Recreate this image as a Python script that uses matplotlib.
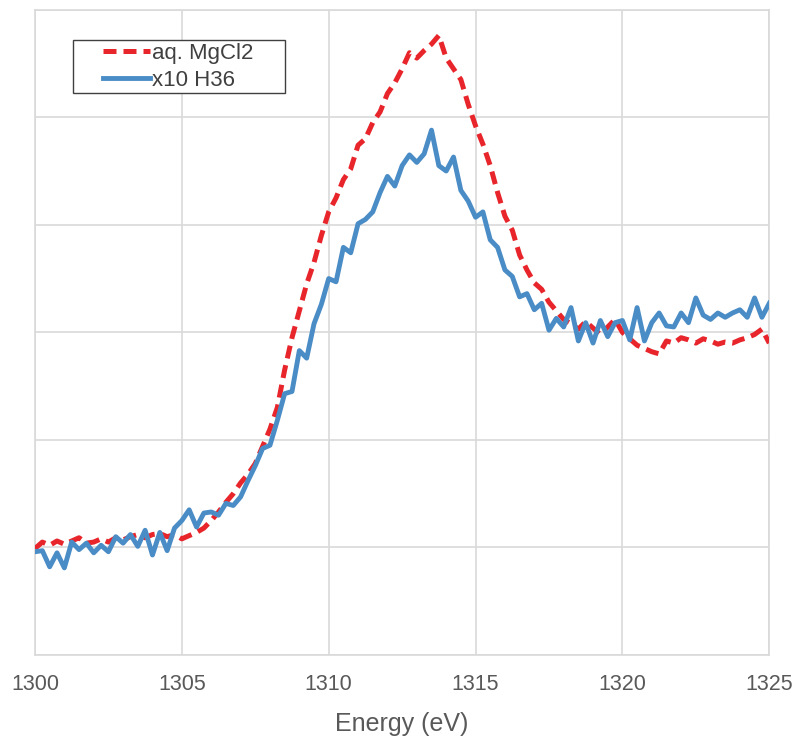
import numpy as np
import matplotlib
matplotlib.use("Agg")
import matplotlib.pyplot as plt
from matplotlib.patches import Rectangle

plt.rcParams['font.family'] = ['Liberation Sans', 'DejaVu Sans']

# Energy grid (eV)
energy = np.arange(1300.0, 1325.01, 0.25)

mgcl2 = [0.99, 1.05, 1.02, 1.06, 1.03, 1.06, 1.09, 1.04, 1.05, 1.08,
         1.05, 1.09, 1.07, 1.10, 1.12, 1.09, 1.12, 1.13, 1.10, 1.12,
         1.08, 1.11, 1.14, 1.18, 1.25, 1.33, 1.42, 1.50, 1.60, 1.68,
         1.78, 1.94, 2.10, 2.30, 2.65, 2.95, 3.20, 3.45, 3.65, 3.90,
         4.12, 4.25, 4.42, 4.52, 4.74, 4.80, 4.95, 5.05, 5.22, 5.32,
         5.45, 5.60, 5.55, 5.62, 5.68, 5.76, 5.55, 5.45, 5.35, 5.12,
         4.92, 4.75, 4.55, 4.30, 4.08, 3.95, 3.72, 3.58, 3.46, 3.40,
         3.28, 3.20, 3.12, 3.08, 3.03, 3.10, 3.04, 2.98, 3.05, 3.12,
         3.00, 2.94, 2.88, 2.85, 2.82, 2.80, 2.92, 2.90, 2.95, 2.93,
         2.90, 2.94, 2.92, 2.89, 2.91, 2.90, 2.93, 2.95, 2.98, 3.03,
         2.90]

h36_x10 = [0.96, 0.97, 0.82, 0.95, 0.81, 1.05, 0.98, 1.04, 0.95, 1.02,
           0.96, 1.10, 1.04, 1.12, 1.01, 1.16, 0.93, 1.14, 0.97, 1.18,
           1.25, 1.35, 1.19, 1.32, 1.33, 1.30, 1.41, 1.39, 1.47, 1.62,
           1.76, 1.92, 1.95, 2.18, 2.43, 2.45, 2.83, 2.76, 3.08, 3.26,
           3.50, 3.47, 3.79, 3.74, 4.01, 4.05, 4.12, 4.30, 4.45, 4.36,
           4.55, 4.65, 4.58, 4.66, 4.88, 4.55, 4.50, 4.63, 4.32, 4.22,
           4.07, 4.12, 3.86, 3.79, 3.58, 3.52, 3.33, 3.36, 3.21, 3.27,
           3.02, 3.13, 3.05, 3.23, 2.92, 3.09, 2.90, 3.11, 2.96, 3.09,
           3.11, 2.93, 3.23, 2.92, 3.09, 3.18, 3.06, 3.05, 3.18, 3.09,
           3.32, 3.16, 3.12, 3.18, 3.14, 3.18, 3.21, 3.14, 3.32, 3.14,
           3.27]

x_ticks = [1300, 1305, 1310, 1315, 1320, 1325]
y_grid = [0, 1, 2, 3, 4, 5, 6]

fig = plt.figure(figsize=(7.97, 7.45), dpi=100)
ax = fig.add_axes([0.0439, 0.1208, 0.9213, 0.8662])

ax.plot(energy, mgcl2, color='#E8252B', lw=3.6, ls=(0, (2.6, 1.4)),
        label='aq. MgCl2', zorder=3)
ax.plot(energy, h36_x10, color='#4A8CC6', lw=3.5, label='x10 H36', zorder=4)

ax.set_xlim(1300, 1325)
ax.set_ylim(0, 6)
ax.set_xticks(x_ticks)
ax.set_xticklabels([str(t) for t in x_ticks])
ax.set_yticks(y_grid)
ax.set_yticklabels([])
ax.tick_params(axis='both', length=0)
ax.tick_params(axis='x', labelsize=15.5, colors='#595959', pad=14)
ax.grid(True, color='#D9D9D9', lw=1.2)
for s in ax.spines.values():
    s.set_color('#D9D9D9')
    s.set_linewidth(1.2)
ax.set_axisbelow(True)

ax.set_xlabel('Energy (eV)', fontsize=18, color='#595959', labelpad=12)

# legend box
ax.add_patch(Rectangle((0.0518, 0.8706), 0.2888, 0.0821, transform=ax.transAxes,
                       facecolor='white', edgecolor='#404040', lw=1.0, zorder=5))
leg = ax.legend(loc='upper left', bbox_to_anchor=(0.0926, 0.9487), fontsize=16,
                frameon=False, handlelength=2.1, handletextpad=0.1,
                borderpad=0, labelspacing=0.29, borderaxespad=0)
leg.set_zorder(6)
for t in leg.get_texts():
    t.set_color('#404040')

fig.savefig('out.png', dpi=100)
